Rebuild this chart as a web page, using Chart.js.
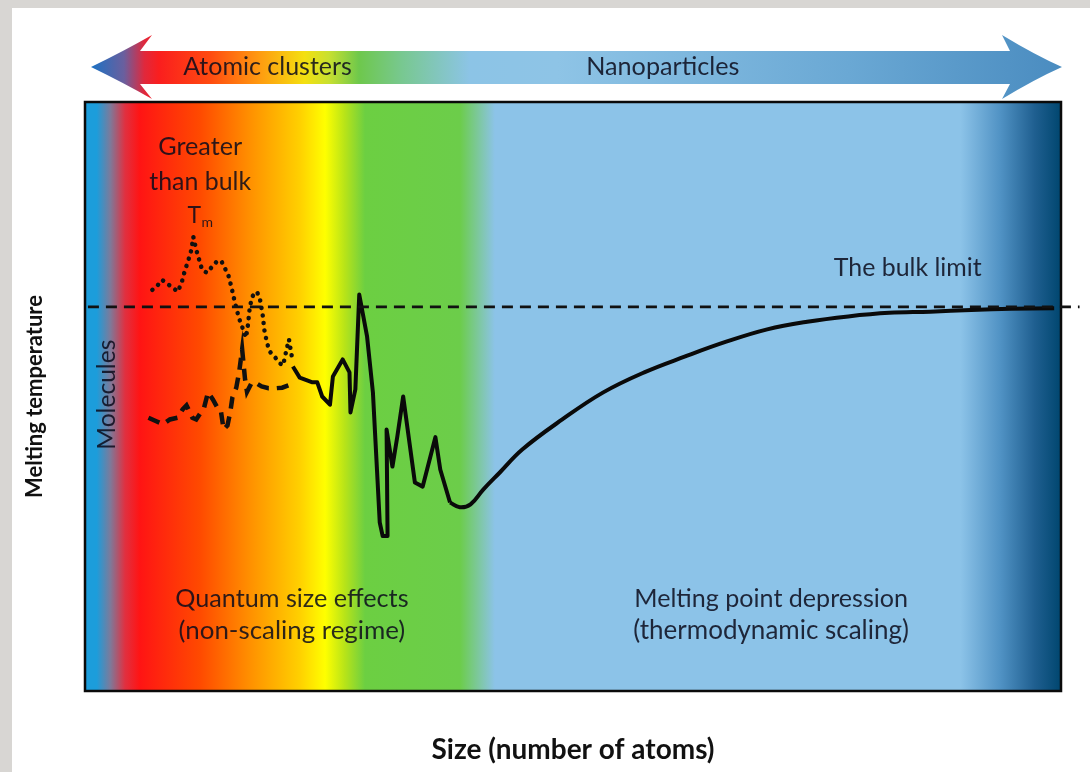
<!DOCTYPE html>
<html>
<head>
<meta charset="utf-8">
<script src="https://cdn.jsdelivr.net/npm/chart.js@4.4.0/dist/chart.umd.min.js"></script>
<style>
  html, body { margin: 0; padding: 0; }
  body { width: 1090px; height: 772px; background: #d8d6d3; position: relative; overflow: hidden; }
  #sheet { position: absolute; left: 12px; top: 8px; right: 0; bottom: 0; background: #fff; }
  #wrap { position: absolute; left: 0; top: 0; width: 1090px; height: 772px; }
</style>
</head>
<body>
<div id="sheet"></div>
<div id="wrap"><canvas id="chart"></canvas></div>
<script>
// size axis runs 0..100 (arbitrary units), melting temperature 0..100
const bulkLimit = 65.2;
const bulkX = [0.3, 101.9];

// dotted: clusters melting above the bulk value
const dottedX = [6.9, 7.4, 7.9, 8.3, 8.9, 9.5, 9.9, 10.2, 10.6, 10.9, 11.1, 11.4, 11.7, 12.0, 12.5, 13.0, 13.6, 14.0,
  14.3, 14.7, 15.0, 15.3, 15.6, 15.9, 16.2, 16.5, 16.7, 16.9, 17.2, 17.6, 17.9, 18.2, 18.4, 18.7, 19.0, 19.5, 20.0,
  20.3, 20.6, 20.9, 21.1, 21.3];
const dottedY = [68.1, 68.8, 69.8, 69.3, 68.6, 67.8, 69.3, 71.2, 73.2, 74.9, 77.1, 74.9, 73.2, 71.5, 71.0, 72.0, 73.1, 72.9,
  71.9, 70.5, 68.6, 66.4, 64.4, 62.7, 61.4, 60.0, 62.2, 65.4, 67.1, 67.8, 66.8, 63.9, 61.0, 58.8, 57.5, 56.6, 55.6,
  55.3, 57.6, 59.7, 57.6, 55.9];

// dashed: clusters melting below the bulk value
const dashedX = [6.5, 7.3, 8.0, 8.7, 9.5, 10.0, 10.4, 11.0, 11.4, 11.8, 12.2, 12.6, 13.1, 13.5, 13.9, 14.2, 14.6, 14.9,
  15.1, 15.5, 15.8, 16.1, 16.4, 16.6, 17.1, 17.6, 18.1, 18.8, 19.5, 20.2, 21.0];
const dashedY = [46.4, 45.8, 45.3, 46.1, 46.4, 47.8, 48.5, 46.4, 46.1, 47.1, 48.1, 50.7, 49.5, 48.3, 47.8, 44.4, 45.1, 47.5,
  49.8, 51.5, 54.2, 58.0, 52.9, 50.8, 52.4, 52.2, 51.7, 51.4, 51.4, 51.5, 52.0];

// solid: non-scaling regime
const quantumX = [21.3, 22.0, 23.3, 23.8, 24.3, 25.1, 25.4, 26.4, 27.1, 27.2, 27.7, 28.1, 28.9, 29.5, 30.2, 30.5, 31.0,
  30.9, 31.5, 32.0, 32.6, 33.8, 34.6, 35.9, 36.4, 37.4];
const quantumY = [55.1, 53.2, 52.4, 52.4, 50.0, 48.6, 53.4, 56.3, 54.1, 47.3, 51.2, 67.3, 60.2, 50.7, 28.6, 26.3, 26.3,
  44.4, 38.1, 43.2, 50.0, 35.4, 34.7, 43.1, 37.6, 32.0];

// solid: thermodynamic scaling towards the bulk limit
const scalingX = [37.4, 38.4, 39.5, 40.8, 42.5, 44.8, 48.9, 53.1, 57.3, 61.5, 65.7, 69.9, 74.0, 78.2, 82.4, 86.6, 90.8, 94.9, 99.3];
const scalingY = [32.0, 31.2, 31.7, 34.2, 37.1, 41.0, 46.1, 50.7, 54.1, 56.8, 59.3, 61.4, 62.7, 63.6, 64.2, 64.4, 64.7, 64.9, 65.0];

const FONT = 'Lato';
const measureCtx = document.createElement('canvas').getContext('2d');
function fitSize(text, weight, width) {
  measureCtx.font = weight + ' 100px ' + FONT;
  return 100 * width / measureCtx.measureText(text).width;
}
const pts = (xs, ys) => xs.map((x, i) => ({ x: x, y: ys[i] }));

// text placed in data units; w = wanted text width in px
const notes = [
  { text: 'Greater', x: 11.8, y: 92.4, w: 84 },
  { text: 'than bulk', x: 11.8, y: 86.4, w: 102 },
  { text: 'The bulk limit', x: 84.3, y: 71.9, w: 148 },
  { text: 'Molecules', x: 2.25, y: 50.3, w: 110, rot: true },
  { text: 'Quantum size effects', x: 21.2, y: 15.6, w: 233 },
  { text: '(non-scaling regime)', x: 21.2, y: 10.2, w: 227 },
  { text: 'Melting point depression', x: 70.3, y: 15.6, w: 274 },
  { text: '(thermodynamic scaling)', x: 70.3, y: 10.2, w: 276 }
];
const bandNotes = [
  { text: 'Atomic clusters', x: 18.7, w: 169 },
  { text: 'Nanoparticles', x: 59.2, w: 153 }
];

const textColor = 'rgba(12,12,28,0.86)';

const xTitleSize = fitSize('Size (number of atoms)', 'bold', 283);
const yTitleSize = fitSize('Melting temperature', 'bold', 203);
const xLh = xTitleSize * 1.2, yLh = yTitleSize * 1.2;
const padBottom = 772 - 750 - 4 - xLh / 2;
const yTitleTop = 35 - yLh / 2;

const backdrop = {
  id: 'backdrop',
  beforeDatasetsDraw(chart) {
    const { ctx, chartArea: a } = chart;
    const g = ctx.createLinearGradient(a.left, 0, a.right, 0);
    [[0, '#1c9ddb'], [0.012, '#1c9ddb'], [0.026, '#7d7a9a'], [0.041, '#e03040'], [0.056, '#ff1414'],
     [0.118, '#ff4a00'], [0.169, '#ff9000'], [0.22, '#ffd000'], [0.246, '#ffff00'], [0.266, '#b8e418'],
     [0.287, '#6ccf42'], [0.384, '#6ccd4a'], [0.42, '#8cc3e8'], [0.897, '#8cc3e8'], [0.938, '#5092c4'],
     [0.973, '#1f5f90'], [1, '#00466f']].forEach(s => g.addColorStop(s[0], s[1]));
    ctx.save();
    ctx.fillStyle = g;
    ctx.fillRect(a.left, a.top, a.right - a.left, a.bottom - a.top);
    ctx.strokeStyle = '#0a0a0a';
    ctx.lineWidth = 2.5;
    ctx.strokeRect(a.left, a.top, a.right - a.left, a.bottom - a.top);
    ctx.restore();
  },
  afterDatasetsDraw(chart) {
    const { ctx, chartArea: a, scales: { x, y } } = chart;
    ctx.save();

    // double arrow above the plot
    const L = a.left + 6, R = a.right + 1, mid = a.top - 35;
    const g = ctx.createLinearGradient(L, 0, R, 0);
    [[0, '#1b72c4'], [0.034, '#6a5f9e'], [0.055, '#e0283c'], [0.07, '#fa1e1e'], [0.122, '#ff4a10'],
     [0.173, '#ff9a10'], [0.22, '#f4e010'], [0.245, '#c8e030'], [0.276, '#6ec84c'], [0.32, '#78c890'],
     [0.39, '#8cc4e6'], [0.48, '#8ec4e6'], [0.78, '#6aa8d4'], [1, '#4a8cc0']].forEach(s => g.addColorStop(s[0], s[1]));
    ctx.fillStyle = g;
    ctx.beginPath();
    ctx.moveTo(L, mid);
    ctx.quadraticCurveTo(L + 33, mid - 16, L + 61, mid - 32);
    ctx.lineTo(L + 49, mid - 16);
    ctx.lineTo(R - 52, mid - 16);
    ctx.lineTo(R - 60, mid - 32);
    ctx.quadraticCurveTo(R - 27, mid - 12, R, mid);
    ctx.quadraticCurveTo(R - 27, mid + 12, R - 60, mid + 32);
    ctx.lineTo(R - 52, mid + 17);
    ctx.lineTo(L + 49, mid + 17);
    ctx.lineTo(L + 61, mid + 32);
    ctx.quadraticCurveTo(L + 33, mid + 16, L, mid);
    ctx.closePath();
    ctx.fill();

    ctx.fillStyle = textColor;
    ctx.textAlign = 'center';
    ctx.textBaseline = 'middle';
    bandNotes.forEach(n => {
      ctx.font = fitSize(n.text, 'normal', n.w).toFixed(1) + 'px ' + FONT;
      ctx.fillText(n.text, x.getPixelForValue(n.x), mid);
    });

    notes.forEach(n => {
      const px = x.getPixelForValue(n.x), py = y.getPixelForValue(n.y);
      ctx.font = fitSize(n.text, 'normal', n.w).toFixed(1) + 'px ' + FONT;
      if (n.rot) {
        ctx.save();
        ctx.translate(px, py);
        ctx.rotate(-Math.PI / 2);
        ctx.fillText(n.text, 0, 0);
        ctx.restore();
      } else {
        ctx.fillText(n.text, px, py);
      }
    });

    // T with subscript m
    const tx = x.getPixelForValue(11.2), ty = y.getPixelForValue(80.8);
    ctx.font = '23px ' + FONT;
    ctx.fillText('T', tx, ty);
    ctx.font = '14px ' + FONT;
    ctx.fillText('m', tx + 13, ty + 7);
    ctx.restore();
  }
};

new Chart(document.getElementById('chart'), {
  type: 'line',
  data: {
    datasets: [
      {
        label: 'Bulk limit',
        data: pts(bulkX, [bulkLimit, bulkLimit]),
        borderColor: '#111',
        borderWidth: 2.8,
        borderDash: [11, 7],
        clip: false
      },
      {
        label: 'Above bulk',
        data: pts(dottedX, dottedY),
        borderColor: '#111',
        borderWidth: 4.5,
        borderDash: [0.1, 7.5],
        borderCapStyle: 'round'
      },
      {
        label: 'Below bulk',
        data: pts(dashedX, dashedY),
        borderColor: '#111',
        borderWidth: 4.5,
        borderDash: [12, 8]
      },
      {
        label: 'Non-scaling',
        data: pts(quantumX, quantumY),
        borderColor: '#0a0a0a',
        borderWidth: 4,
        borderJoinStyle: 'round'
      },
      {
        label: 'Scaling',
        data: pts(scalingX, scalingY),
        borderColor: '#0a0a0a',
        borderWidth: 4,
        tension: 0.4
      }
    ]
  },
  options: {
    responsive: true,
    maintainAspectRatio: false,
    animation: false,
    events: [],
    elements: { point: { radius: 0 }, line: { tension: 0 } },
    layout: { padding: { left: 0, right: 29, top: 102, bottom: padBottom } },
    plugins: { legend: { display: false }, tooltip: { enabled: false } },
    scales: {
      x: {
        type: 'linear', min: 0, max: 100,
        ticks: { display: false }, grid: { display: false }, border: { display: false },
        title: {
          display: true, text: 'Size (number of atoms)', color: '#111',
          font: { family: FONT, size: xTitleSize, weight: 'bold', lineHeight: 1.2 },
          padding: { top: 80 - padBottom - xLh - 4 - 7, bottom: 4 }
        }
      },
      y: {
        type: 'linear', min: 0, max: 100,
        ticks: { display: false }, grid: { display: false }, border: { display: false },
        title: {
          display: true, text: 'Melting temperature', color: '#111',
          font: { family: FONT, size: yTitleSize, weight: 'bold', lineHeight: 1.2 },
          padding: { top: yTitleTop, bottom: 85 - yLh - yTitleTop - 8 }
        }
      }
    }
  },
  plugins: [backdrop]
});
</script>
</body>
</html>
